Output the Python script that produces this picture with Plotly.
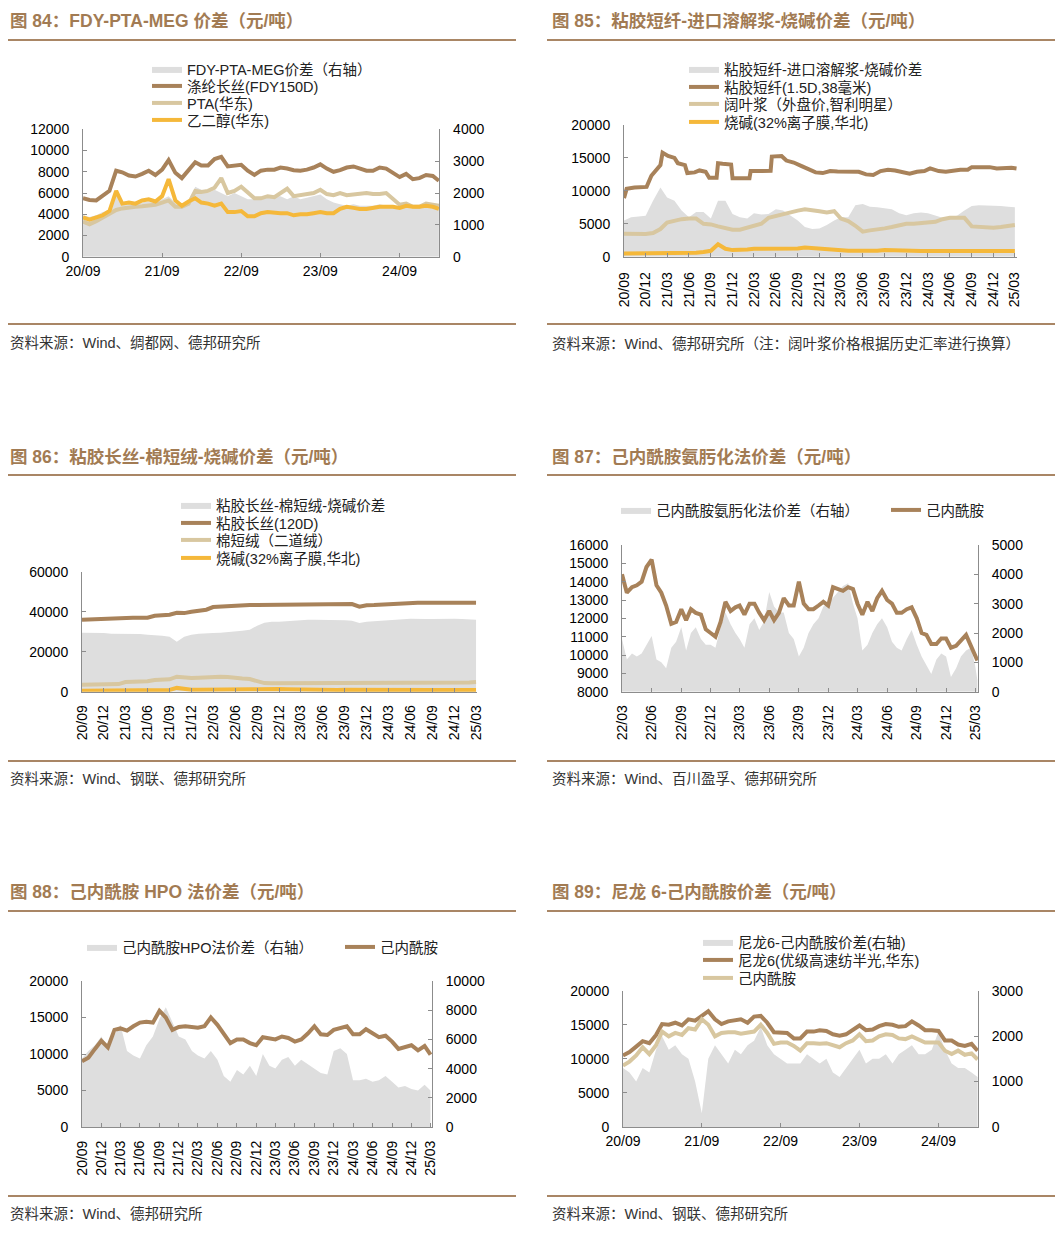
import pandas as pd
import plotly.graph_objects as go

# ------------------------------------------------------------------ data
months = pd.date_range("2020-09-01", "2025-03-01", freq="MS")  # 20/09 .. 25/03 monthly

# Fig 84
fdy_price = [5500, 5350, 5300, 5800,
             6200, 8100, 7950, 7650, 7550, 7800, 8100, 7700, 8200, 9100, 7900, 7400,
             8100, 8900, 8600, 8600, 9200, 9400, 8500, 8600, 8650, 8100, 7700, 8100,
             8200, 8200, 8400, 8300, 8150, 8100, 8200, 8400, 8700, 8300, 8000, 8150,
             8400, 8500, 8300, 8100, 8100, 8400, 8300, 7900, 7500, 7800, 7300, 7400,
             7700, 7600, 7150]
pta_price = [3300, 3050, 3350, 3700,
             4000, 4400, 4550, 4650, 4700, 4750, 4800, 4900, 5100, 5300, 4700, 4700,
             5000, 6200, 6100, 6200, 6500, 7400, 6000, 6200, 6600, 6100, 5500, 5500,
             5700, 5600, 6000, 6400, 5700, 5800, 5900, 6000, 6300, 5900, 5800, 6000,
             5800, 5900, 5900, 6000, 5900, 5900, 6000, 5500, 4900, 5000, 4700, 4700,
             5000, 4900, 4800]
meg_price = [3700, 3500, 3700, 3900,
             4300, 6200, 5000, 5100, 5000, 5300, 5400, 5200, 5700, 7300, 5300, 4800,
             5200, 5500, 5100, 5000, 4800, 5000, 4200, 4200, 4300, 3800, 3800, 4100,
             4200, 4100, 4100, 4100, 3900, 4000, 4000, 4100, 4200, 4100, 4100, 4500,
             4700, 4600, 4500, 4500, 4600, 4700, 4700, 4700, 4600, 4800, 4700, 4700,
             4800, 4700, 4500]
fdy_spread = [1300, 1250, 1300, 1400,
              1450, 2100, 1700, 1650, 1650, 1700, 1750, 1700, 1800, 1900, 1700, 1600,
              1700, 2200, 2100, 2000, 2100, 2000, 1900, 2000, 1900, 1800, 1800, 1850,
              1850, 1900, 1900, 1800, 1900, 1800, 1850, 1900, 1950, 1800, 1700, 1650,
              1600, 1650, 1600, 1600, 1600, 1650, 1600, 1550, 1550, 1600, 1500, 1550,
              1650, 1600, 1500]

# Fig 85
vsf_dates = ["2020-09-01", "2020-09-12", "2020-10-15", "2020-12-05", "2020-12-25", "2021-01-15",
             "2021-02-01", "2021-02-10", "2021-03-05", "2021-04-01", "2021-04-15", "2021-05-15",
             "2021-05-25", "2021-06-25", "2021-07-15", "2021-08-10", "2021-08-25", "2021-09-25",
             "2021-10-01", "2021-10-20", "2021-11-25", "2021-12-01", "2022-02-10", "2022-02-15",
             "2022-05-10", "2022-05-15", "2022-06-25", "2022-07-15", "2022-08-15", "2022-09-15",
             "2022-10-15", "2022-11-15", "2022-12-15", "2023-01-15", "2023-02-15", "2023-03-15",
             "2023-04-15", "2023-05-15", "2023-06-15", "2023-07-15", "2023-08-15", "2023-09-15",
             "2023-10-15", "2023-11-15", "2023-12-15", "2024-01-15", "2024-02-15", "2024-03-10",
             "2024-04-15", "2024-05-15", "2024-06-15", "2024-07-15", "2024-08-15", "2024-09-01",
             "2024-10-15", "2024-11-15", "2024-12-15", "2025-01-15", "2025-02-15", "2025-03-08"]
vsf_price = [8900, 10300, 10500, 10600, 12300, 13300,
             13900, 15800, 15300, 15000, 14200, 13900,
             12700, 12800, 13100, 12900, 12000, 12000,
             14200, 14100, 14000, 11900, 11900, 13000,
             13050, 15200, 15300, 14600, 14300, 13800,
             13300, 12800, 12700, 13000, 12950, 12900,
             12950, 12900, 12500, 12400, 13000, 13200,
             13100, 12900, 12600, 12900, 13000, 13400,
             13000, 12900, 13100, 13200, 13200, 13600,
             13600, 13600, 13400, 13500, 13500, 13400]
pulp_price = [3500, 3450, 3400, 3450,
              3600, 4200, 5200, 5500, 5700, 5800, 5800, 5000, 4900, 4600, 4300, 4100,
              4100, 4400, 4700, 5000, 5900, 6200, 6500, 6800, 7000, 7200, 7100, 6900,
              6700, 6900, 5800, 5400, 4700, 3800, 4000, 4100, 4300, 4500, 4800, 5000,
              5000, 5100, 5200, 5300, 5700, 5900, 5900, 5900, 4600, 4500, 4500, 4400,
              4500, 4700, 4800]
caustic_price = [500, 500, 480, 450,
                 450, 450, 450, 480, 500, 520, 600, 700, 900, 1900, 1200, 1000,
                 1000, 1100, 1200, 1200, 1250, 1300, 1250, 1200, 1250, 1400, 1300, 1300,
                 1200, 1100, 950, 900, 900, 850, 850, 900, 1000, 950, 900, 850,
                 850, 850, 850, 850, 850, 850, 850, 850, 850, 880, 880, 880,
                 880, 880, 880]
vsf_spread = [5500, 6000, 6100, 6200,
              8500, 10500, 9000, 8500, 7000, 6000, 6800, 6800, 5800, 8500, 8500, 6500,
              6000, 5800, 6600, 6400, 6500, 7200, 7000, 6200, 5500, 4500, 4200, 4300,
              4800, 5500, 6000, 6000, 7800, 8000, 7600, 7500, 7400, 7200, 6600, 6300,
              6600, 6700, 6600, 6300, 5900, 6000, 6200, 7000, 7700, 7800, 7800, 7800,
              7700, 7600, 7500]

# Fig 86
vfy_price = [36000, 36200, 36200, 36200,
             36500, 36800, 37000, 37000, 37000, 37000, 38000, 38200, 38500, 39500, 39300, 40000,
             40500, 41000, 42300, 42500, 43000, 43300, 43300, 43300, 43300, 43300, 43300, 43300,
             43500, 43800, 43800, 43800, 43800, 43800, 43800, 43800, 43800, 43800, 42500, 43200,
             43300, 43500, 43800, 44300, 44500, 44500, 44500, 44500, 44500, 44500, 44500, 44500,
             44500, 44500, 44500]
linter_price = [3500, 3600, 3600, 3700,
                3700, 3800, 4800, 4800, 5000, 5200, 5800, 6000, 6200, 7500, 7000, 6800,
                7000, 7300, 7500, 7500, 7400, 7200, 6600, 6300, 5500, 4300, 4200, 4200,
                4200, 4300, 4300, 4300, 4400, 4400, 4500, 4500, 4500, 4500, 4500, 4500,
                4500, 4500, 4500, 4600, 4700, 4700, 4600, 4500, 4400, 4300, 4300, 4300,
                4400, 4600, 4800]
vfy_spread = [29500, 29500, 29500, 29300,
              29000, 29000, 29000, 28800, 28800, 28500, 28300, 28000, 27500, 25000, 27500, 28500,
              29000, 29000, 29300, 29500, 29800, 30000, 30500, 31000, 33000, 34500, 35000, 35000,
              35300, 35700, 36000, 36000, 36000, 36000, 35800, 35800, 35700, 35500, 34300, 35000,
              35200, 35300, 35500, 35800, 36200, 36500, 36300, 36300, 36400, 36500, 36500, 36500,
              36400, 36300, 36000]

# Fig 87 (semi-monthly, 22/03 .. 25/03)
cpl_dates = []
for d in pd.date_range("2022-03-01", "2025-02-01", freq="MS"):
    cpl_dates += [d, d + pd.Timedelta(days=15)]
cpl_dates += [pd.Timestamp("2025-03-01"), pd.Timestamp("2025-03-08")]
cpl_ox_price = [14400, 13400, 13700, 13800, 14000, 14800, 15200, 13800, 13400, 12700,
                11700, 11800, 12500, 11900, 12500, 12300, 12200, 11400, 11200, 11000,
                11800, 12900, 12400, 12600, 12700, 12200, 12800, 12800, 12300, 11900,
                12400, 11900, 12300, 13100, 12700, 12700, 14000, 12800, 12500, 12500,
                12700, 12900, 12700, 13700, 13600, 13500, 13700, 13600, 12800, 12200,
                12900, 12400, 13100, 13500, 13000, 12800, 12300, 12300, 12500, 12600,
                12000, 11200, 11100, 10600, 10600, 10900, 10900, 10400, 10500, 10800,
                11100, 10500, 9900, 9700]
cpl_ox_spread = [1800, 1100, 1300, 1200, 1300, 1600, 1900, 1100, 1000, 800,
                 1500, 1700, 2200, 1400, 2000, 2200, 1800, 1600, 1600, 1500,
                 2200, 2700, 2300, 2000, 1800, 1500, 2300, 2500, 2100, 2400,
                 3400, 2900, 2700, 2700, 2000, 1800, 1200, 1500, 2000, 2300,
                 2500, 2900, 3000, 3200, 3400, 3600, 3700, 3000, 2500, 1400,
                 1600, 2000, 2300, 2500, 2200, 1700, 1500, 1400, 1800, 2100,
                 1600, 1200, 900, 600, 1100, 1300, 1200, 500, 800, 1200,
                 1400, 1500, 900, 400]

# Fig 88
cpl_hpo_price = [9000, 9500, 10700, 11800,
                 10900, 13300, 13500, 13200, 13800, 14300, 14400, 14300, 15900, 15000, 13300, 13700,
                 13800, 13700, 13600, 13800, 15000, 14000, 12800, 11500, 12000, 12000, 11500, 11200,
                 12300, 12200, 12000, 12400, 12200, 11700, 12000, 12800, 13800, 12700, 12600, 13300,
                 13500, 13800, 12700, 12700, 13400, 12800, 12300, 12500, 11700, 10700, 10900, 11200,
                 10500, 11100, 9900]
cpl_hpo_spread = [4700, 5200, 5600, 6200,
                  5500, 6300, 7000, 5200, 4900, 4700, 5600, 6200, 7400, 8200, 7200, 6200,
                  6000, 5200, 4900, 4700, 5200, 4600, 3500, 3100, 3900, 3600, 4200, 3500,
                  5000, 4200, 4000, 4600, 4800, 4200, 4600, 4300, 4000, 3700, 3600, 5200,
                  5400, 5000, 3200, 3200, 3300, 3100, 3200, 3500, 3100, 2700, 2800, 2600,
                  2500, 2900, 2500]

# Fig 89
pa6_price = [10500, 11000, 11800, 12600,
             12300, 13500, 15100, 15000, 15300, 14900, 15800, 15600, 16300, 17000, 15800, 15100,
             15500, 15700, 15800, 15300, 16200, 16300, 15300, 13900, 13900, 13800, 13000, 13000,
             14000, 14000, 14200, 14100, 13600, 13400, 13600, 14300, 14900, 14200, 14300, 14800,
             15100, 15000, 14700, 14800, 15500, 14900, 14200, 14200, 14100, 12700, 12700, 12100,
             11900, 12200, 11200]
cpl_price = [9000, 9600, 10500, 11700,
             10700, 12000, 14000, 13300, 13800, 13500, 14500, 14300, 15800, 15000, 13300, 13800,
             13900, 13900, 13700, 13900, 14000, 15000, 13800, 12200, 12400, 12400, 11900, 11200,
             12300, 12300, 12200, 12300, 12000, 11700, 12300, 12700, 13600, 12600, 12700, 13300,
             13600, 13500, 13000, 12900, 13300, 12800, 12400, 12400, 12400, 11200, 10700, 11200,
             10600, 10800, 9900]
pa6_spread = [1300, 1200, 1000, 1300,
              1200, 1700, 2000, 1700, 1800, 1600, 1500, 1000, 300, 1500, 1800, 1600,
              1400, 1700, 1600, 1800, 1900, 2200, 1800, 1600, 1500, 1400, 1400, 1400,
              1600, 1500, 1400, 1500, 1200, 1100, 1300, 1500, 1700, 1400, 1500, 1500,
              1600, 1400, 1600, 1700, 1800, 1600, 1600, 1700, 2100, 1700, 1400, 1300,
              1300, 1200, 1100]

# tick labels
year_tick_dates = ["2020-09-01", "2021-09-01", "2022-09-01", "2023-09-01", "2024-09-01"]
year_tick_labels = ["20/09", "21/09", "22/09", "23/09", "24/09"]
quarter_tick_dates = list(pd.date_range("2020-09-01", "2025-03-01", freq="3MS"))
quarter_tick_labels = ["20/09", "20/12", "21/03", "21/06", "21/09", "21/12", "22/03", "22/06",
                       "22/09", "22/12", "23/03", "23/06", "23/09", "23/12", "24/03", "24/06",
                       "24/09", "24/12", "25/03"]
cpl_tick_dates = list(pd.date_range("2022-03-01", "2025-03-01", freq="3MS"))
cpl_tick_labels = ["22/03", "22/06", "22/09", "22/12", "23/03", "23/06", "23/09", "23/12",
                   "24/03", "24/06", "24/09", "24/12", "25/03"]

titles = ["图 84：FDY-PTA-MEG 价差（元/吨）", "图 85：粘胶短纤-进口溶解浆-烧碱价差（元/吨）",
          "图 86：粘胶长丝-棉短绒-烧碱价差（元/吨）", "图 87：己内酰胺氨肟化法价差（元/吨）",
          "图 88：己内酰胺 HPO 法价差（元/吨）", "图 89：尼龙 6-己内酰胺价差（元/吨）"]
sources = ["资料来源：Wind、绸都网、德邦研究所",
           "资料来源：Wind、德邦研究所（注：阔叶浆价格根据历史汇率进行换算）",
           "资料来源：Wind、钢联、德邦研究所",
           "资料来源：Wind、百川盈孚、德邦研究所",
           "资料来源：Wind、德邦研究所",
           "资料来源：Wind、钢联、德邦研究所"]

# ------------------------------------------------------------------ style
OFF = 8                      # page body margin of the rendered html
W, H = 1063 - OFF, 1237 - OFF
FONT = "Liberation Sans, Arial, Noto Sans CJK SC, sans-serif"
BROWN = "#A8825A"
TAN = "#D8C7A0"
YELLOW = "#F5B83A"
GRAY = "#DEDEDE"
TITLE_C = "#A27B53"
RULE_C = "#A98665"
AXIS_C = "#8C8C8C"
LW = 4
LEG_SIZE = 14.5


def fx(p):
    return (p - OFF) / W


def fy(p):
    return 1 - (p - OFF) / H


fig = go.Figure()
legends = {}


def leg(swatch_x, center_y):
    """one single-entry legend per item, placed by its swatch position (page pixels)"""
    key = "legend" if not legends else "legend%d" % (len(legends) + 1)
    legends[key] = dict(x=fx(swatch_x), y=fy(center_y - 16), xanchor="left", yanchor="top",
                        orientation="v", bgcolor="rgba(0,0,0,0)", borderwidth=0, itemwidth=30,
                        font=dict(family=FONT, size=LEG_SIZE, color="#222222"))
    return key


def area(x, y, name, xa, ya, pos):
    fig.add_trace(go.Scatter(x=x, y=y, name=name, mode="lines", line=dict(width=0, color=GRAY),
                             fill="tozeroy", fillcolor=GRAY, xaxis=xa, yaxis=ya, legend=leg(*pos),
                             hoverinfo="skip"))


def line(x, y, name, color, xa, ya, pos):
    fig.add_trace(go.Scatter(x=x, y=y, name=name, mode="lines", line=dict(width=LW, color=color),
                             xaxis=xa, yaxis=ya, legend=leg(*pos), hoverinfo="skip"))


# Fig 84: spread on y (right), prices on y2 (left, overlay)
area(months, fdy_spread, "FDY-PTA-MEG价差（右轴）", "x", "y", (147, 69))
line(months, fdy_price, "涤纶长丝(FDY150D)", BROWN, "x", "y2", (147, 86))
line(months, pta_price, "PTA(华东)", TAN, "x", "y2", (147, 103))
line(months, meg_price, "乙二醇(华东)", YELLOW, "x", "y2", (147, 120))

# Fig 85
area(months, vsf_spread, "粘胶短纤-进口溶解浆-烧碱价差", "x2", "y3", (684, 69))
line(vsf_dates, vsf_price, "粘胶短纤(1.5D,38毫米)", BROWN, "x2", "y3", (684, 87))
line(months, pulp_price, "阔叶浆（外盘价,智利明星）", TAN, "x2", "y3", (684, 104))
line(months, caustic_price, "烧碱(32%离子膜,华北)", YELLOW, "x2", "y3", (684, 122))

# Fig 86
area(months, vfy_spread, "粘胶长丝-棉短绒-烧碱价差", "x3", "y4", (176, 505))
line(months, vfy_price, "粘胶长丝(120D)", BROWN, "x3", "y4", (176, 523))
line(months, linter_price, "棉短绒（二道绒）", TAN, "x3", "y4", (176, 540))
line(months, caustic_price, "烧碱(32%离子膜,华北)", YELLOW, "x3", "y4", (176, 558))

# Fig 87
area(cpl_dates, cpl_ox_spread, "己内酰胺氨肟化法价差（右轴）", "x4", "y5", (616, 510))
line(cpl_dates, cpl_ox_price, "己内酰胺", BROWN, "x4", "y6", (886, 510))

# Fig 88
area(months, cpl_hpo_spread, "己内酰胺HPO法价差（右轴）", "x5", "y7", (82, 947))
line(months, cpl_hpo_price, "己内酰胺", BROWN, "x5", "y8", (340, 947))

# Fig 89
area(months, pa6_spread, "尼龙6-己内酰胺价差(右轴)", "x6", "y9", (698, 942))
line(months, pa6_price, "尼龙6(优级高速纺半光,华东)", BROWN, "x6", "y10", (698, 960))
line(months, cpl_price, "己内酰胺", TAN, "x6", "y10", (698, 978))

tickfont = dict(family=FONT, size=14, color="#000000")
common = dict(showline=True, linecolor=AXIS_C, linewidth=1, ticks="inside", ticklen=4,
              tickcolor=AXIS_C, showgrid=False, zeroline=False, tickfont=tickfont, fixedrange=True)


def xax(l, r, anchor, rng, tv, tt, angle=0, standoff=1):
    return dict(domain=[fx(l), fx(r)], anchor=anchor, range=rng, tickmode="array", tickvals=tv,
                ticktext=tt, tickangle=angle, ticklabelstandoff=standoff, type="date", **common)


def yax(top, bot, anchor, rng, dtick, side="left", overlaying=None):
    d = dict(anchor=anchor, range=rng, dtick=dtick, tick0=rng[0], side=side, tickformat="d",
             ticklabelstandoff=10, **common)
    if overlaying:
        d["overlaying"] = overlaying
    else:
        d["domain"] = [fy(bot), fy(top)]
    return d


layout = dict(width=W, height=H, margin=dict(l=0, r=0, t=0, b=0, autoexpand=False),
              paper_bgcolor="white", plot_bgcolor="white", showlegend=True, hovermode=False,
              font=dict(family=FONT, size=13, color="#222222"))

layout["xaxis"] = xax(83, 439.3, "y", ["2020-09-01", "2025-03-03"], year_tick_dates, year_tick_labels)
layout["yaxis"] = yax(129.3, 256.7, "x", [0, 4000], 1000, side="right")
layout["yaxis2"] = yax(129.3, 256.7, "x", [0, 12000], 2000, side="left", overlaying="y")

layout["xaxis2"] = xax(624, 1017, "y3", ["2020-09-01", "2025-03-10"], quarter_tick_dates,
                       quarter_tick_labels, angle=-90, standoff=9)
layout["yaxis3"] = yax(125, 256.7, "x2", [0, 20000], 5000)

layout["xaxis3"] = xax(82, 477, "y4", ["2020-09-01", "2025-03-05"], quarter_tick_dates,
                       quarter_tick_labels, angle=-90, standoff=7)
layout["yaxis4"] = yax(571.7, 691.7, "x3", [0, 60000], 20000)

layout["xaxis4"] = xax(622, 978, "y5", ["2022-03-01", "2025-03-10"], cpl_tick_dates,
                       cpl_tick_labels, angle=-90, standoff=7)
layout["yaxis5"] = yax(545, 691.7, "x4", [0, 5000], 1000, side="right")
layout["yaxis6"] = yax(545, 691.7, "x4", [8000, 16000], 1000, side="left", overlaying="y5")

layout["xaxis5"] = xax(82, 432, "y7", ["2020-09-01", "2025-03-08"], quarter_tick_dates,
                       quarter_tick_labels, angle=-90, standoff=7)
layout["yaxis7"] = yax(981, 1127, "x5", [0, 10000], 2000, side="right")
layout["yaxis8"] = yax(981, 1127, "x5", [0, 20000], 5000, side="left", overlaying="y7")

layout["xaxis6"] = xax(623, 978, "y9", ["2020-09-01", "2025-03-03"], year_tick_dates, year_tick_labels)
layout["yaxis9"] = yax(990.7, 1127, "x6", [0, 3000], 1000, side="right")
layout["yaxis10"] = yax(990.7, 1127, "x6", [0, 20000], 5000, side="left", overlaying="y9")

layout.update(legends)

# titles, rules and sources
col_x = [(8, 6, 516), (550, 547, 1057)]
row_y = [(21, 40, 324, 343), (457, 475, 761, 779), (892, 911, 1196, 1214)]
annotations = []
shapes = []
for i in range(6):
    r, c = divmod(i, 2)
    tx, l, rr = col_x[c]
    ty, rule1, rule2, sy = row_y[r]
    annotations.append(dict(text="<b>" + titles[i] + "</b>", x=fx(tx), y=fy(ty), xref="paper",
                            yref="paper", xanchor="left", yanchor="middle", showarrow=False,
                            font=dict(family=FONT, size=17.5, color=TITLE_C)))
    annotations.append(dict(text=sources[i], x=fx(tx), y=fy(sy), xref="paper", yref="paper",
                            xanchor="left", yanchor="middle", showarrow=False,
                            font=dict(family=FONT, size=14.5, color="#333333")))
    for yy in (rule1, rule2):
        shapes.append(dict(type="line", xref="paper", yref="paper", x0=fx(l), x1=fx(rr),
                           y0=fy(yy), y1=fy(yy), line=dict(color=RULE_C, width=2)))
layout["annotations"] = annotations
layout["shapes"] = shapes

fig.update_layout(**layout)
fig.write_html("out.html")
